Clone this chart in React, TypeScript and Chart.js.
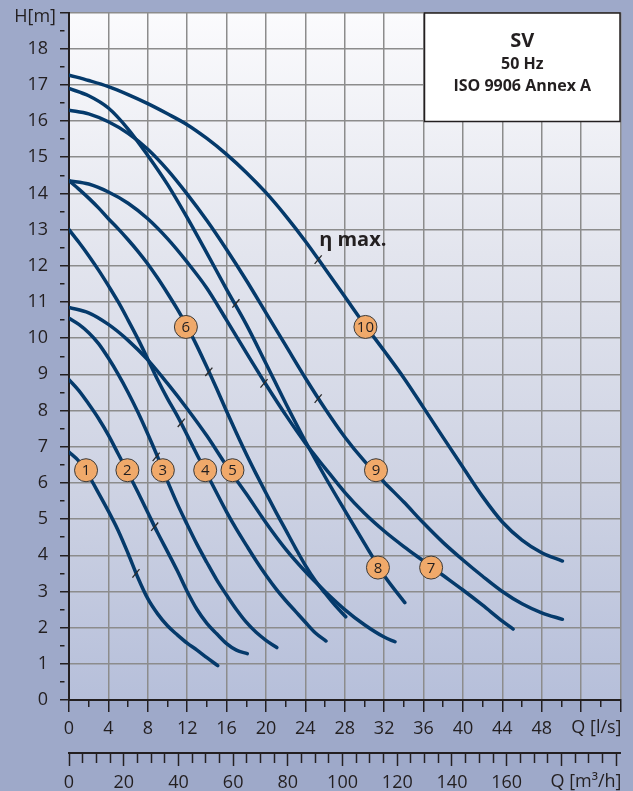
import React, { useEffect, useRef } from 'react';
import { Chart, registerables } from 'chart.js';

Chart.register(...registerables);

const FONT = "'Open Sans', 'Noto Sans', sans-serif";
const INK = '#231f20';
const CURVE = '#053a6b';
const GRID = '#8c8c8c';
const OUTER = '#9ea9c9';
const CLEAR = 'rgba(0,0,0,0)';

// Pump curves: Q [l/s] and H [m]
const q1 = [0, 1, 2, 3, 4, 5, 6, 7, 8, 9, 10, 11, 12, 13, 14, 15.1];
const h1 = [6.85, 6.6, 6.2, 5.72, 5.22, 4.68, 4.05, 3.38, 2.8, 2.38, 2.05, 1.8, 1.57, 1.38, 1.17, 0.95];

const q2 = [0, 1, 2, 3, 4, 5, 6, 7, 8, 9, 10, 11, 12, 13, 14, 15, 16, 17, 18.1];
const h2 = [8.85, 8.55, 8.18, 7.78, 7.32, 6.8, 6.28, 5.74, 5.18, 4.62, 4.1, 3.57, 3.0, 2.5, 2.12, 1.83, 1.56, 1.38, 1.28];

const q3 = [0, 1, 2, 3, 4, 5, 6, 7, 8, 9, 10, 11, 12, 13, 14, 15, 16, 17, 18, 19, 20, 21.1];
const h3 = [10.55, 10.38, 10.15, 9.85, 9.45, 9.0, 8.5, 7.95, 7.35, 6.72, 6.05, 5.42, 4.85, 4.3, 3.8, 3.32, 2.9, 2.5, 2.15, 1.87, 1.65, 1.45];

const q4 = [0, 1, 2, 3, 4, 5, 6, 7, 8, 9, 10, 11, 12, 13, 14, 15, 16, 17, 18, 19, 20, 21, 22, 23, 24, 25, 26.1];
const h4 = [13.0, 12.65, 12.28, 11.88, 11.45, 11.0, 10.5, 9.98, 9.42, 8.85, 8.33, 7.85, 7.32, 6.78, 6.25, 5.72, 5.2, 4.72, 4.28, 3.85, 3.45, 3.08, 2.75, 2.45, 2.15, 1.86, 1.63];

const q5 = [0, 2, 4, 6, 8, 10, 12, 14, 16, 18, 20, 22, 24, 26, 28, 30, 32, 33.1];
const h5 = [10.85, 10.7, 10.38, 9.94, 9.4, 8.75, 8.05, 7.3, 6.47, 5.7, 4.9, 4.17, 3.55, 3.0, 2.5, 2.08, 1.74, 1.61];

const q6 = [0, 1, 2, 3, 4, 5, 6, 7, 8, 9, 10, 11, 12, 13, 14, 15, 16, 17, 18, 19, 20, 21, 22, 23, 24, 25, 26, 27, 28.1];
const h6 = [14.35, 14.12, 13.87, 13.6, 13.3, 13.02, 12.72, 12.4, 12.05, 11.66, 11.24, 10.8, 10.32, 9.78, 9.2, 8.6, 7.98, 7.38, 6.8, 6.25, 5.72, 5.2, 4.7, 4.2, 3.72, 3.3, 2.95, 2.62, 2.3];

const q7 = [0, 2, 4, 6, 8, 10, 12, 14, 16, 18, 20, 22, 24, 26, 28, 30, 32, 34, 36, 38, 40, 42, 44, 45.1];
const h7 = [14.35, 14.26, 14.04, 13.73, 13.3, 12.75, 12.1, 11.38, 10.5, 9.6, 8.72, 7.88, 7.1, 6.41, 5.74, 5.16, 4.67, 4.24, 3.84, 3.44, 3.04, 2.62, 2.18, 1.96];

const q8 = [0, 2, 4, 6, 8, 10, 12, 14, 16, 18, 20, 22, 24, 26, 28, 30, 32, 34.1];
const h8 = [16.9, 16.7, 16.36, 15.78, 15.05, 14.25, 13.33, 12.35, 11.35, 10.38, 9.3, 8.2, 7.15, 6.17, 5.24, 4.33, 3.44, 2.69];

const q9 = [0, 2, 4, 6, 8, 10, 12, 14, 16, 18, 20, 22, 24, 26, 28, 30, 32, 34, 36, 38, 40, 42, 44, 46, 48, 50.1];
const h9 = [16.3, 16.2, 15.98, 15.66, 15.22, 14.65, 13.98, 13.25, 12.45, 11.6, 10.7, 9.8, 8.9, 8.05, 7.27, 6.6, 6.02, 5.47, 4.89, 4.35, 3.87, 3.42, 3.0, 2.66, 2.41, 2.23];

const q10 = [0, 2, 4, 6, 8, 10, 12, 14, 16, 18, 20, 22, 24, 26, 28, 30, 32, 34, 36, 38, 40, 42, 44, 46, 48, 50.1];
const h10 = [17.27, 17.12, 16.95, 16.73, 16.48, 16.2, 15.9, 15.52, 15.08, 14.58, 14.02, 13.38, 12.68, 11.92, 11.15, 10.38, 9.65, 8.9, 8.08, 7.25, 6.43, 5.62, 4.92, 4.42, 4.07, 3.84];

const curveQ = [q1, q2, q3, q4, q5, q6, q7, q8, q9, q10];
const curveH = [h1, h2, h3, h4, h5, h6, h7, h8, h9, h10];

// Curve number badges
const badgeText = ['1', '2', '3', '4', '5', '6', '7', '8', '9', '10'];
const badgeQ = [1.73, 5.93, 9.53, 13.83, 16.6, 11.87, 36.77, 31.37, 31.17, 30.1];
const badgeH = [6.35, 6.35, 6.35, 6.35, 6.35, 10.31, 3.66, 3.66, 6.35, 10.31];

// Best-efficiency marks (η max.)
const effQ = [6.8, 8.7, 8.85, 11.4, 14.2, 19.8, 16.95, 25.3, 25.3];
const effH = [3.5, 4.79, 6.72, 7.66, 9.07, 8.75, 10.96, 8.33, 12.17];

// Axis settings
const qMax = 56;
const hMax = 19;
const m3hPerLs = 3.6;

const decoPlugin = {
  id: 'deco',
  beforeDraw(chart: any) {
    const { ctx, chartArea: a, width, height } = chart;
    ctx.save();
    ctx.fillStyle = OUTER;
    ctx.fillRect(0, 0, width, height);
    const g = ctx.createLinearGradient(0, a.top, 0, a.bottom);
    g.addColorStop(0, '#fbfbfd');
    g.addColorStop(0.35, '#e3e5ee');
    g.addColorStop(0.7, '#cdd2e3');
    g.addColorStop(1, '#b6bfda');
    ctx.fillStyle = g;
    ctx.fillRect(a.left, a.top, a.right - a.left, a.bottom - a.top);
    ctx.restore();
  },
  afterDatasetsDraw(chart: any) {
    const { ctx } = chart;
    const meta = chart.getDatasetMeta(0);
    ctx.save();
    ctx.fillStyle = INK;
    ctx.font = `15px ${FONT}`;
    ctx.textAlign = 'center';
    ctx.textBaseline = 'middle';
    meta.data.forEach((el: any, i: number) => {
      ctx.fillText(badgeText[i], el.x, el.y + 1);
    });
    ctx.restore();
  },
  afterDraw(chart: any) {
    const { ctx, chartArea: a, scales } = chart;
    const xs = scales.x;
    const ys = scales.y;
    ctx.save();
    // info box
    const bl = Math.round(xs.getPixelForValue(36)) + 0.5;
    const bb = Math.round(ys.getPixelForValue(16)) + 0.5;
    const bt = a.top + 0.5;
    const br = a.right - 0.5;
    ctx.fillStyle = '#ffffff';
    ctx.fillRect(bl, bt, br - bl, bb - bt);
    ctx.strokeStyle = INK;
    ctx.lineWidth = 1.5;
    ctx.strokeRect(bl, bt, br - bl, bb - bt);
    const cx = (bl + br) / 2;
    ctx.fillStyle = INK;
    ctx.textAlign = 'center';
    ctx.textBaseline = 'middle';
    ctx.font = `bold 20px ${FONT}`;
    ctx.fillText('SV', cx, 41);
    ctx.font = `bold 16px ${FONT}`;
    ctx.fillText('50 Hz', cx, 64);
    ctx.fillText('ISO 9906 Annex A', cx, 86);

    // eta max
    ctx.textAlign = 'left';
    ctx.font = `bold 20px ${FONT}`;
    ctx.fillText('η max.', xs.getPixelForValue(25.4), ys.getPixelForValue(12.7));

    // axis titles
    ctx.font = `18px ${FONT}`;
    ctx.textAlign = 'right';
    ctx.fillText('H[m]', 56, 17);
    ctx.fillText('Q [l/s]', a.right + 1, 728);
    ctx.fillText('Q [m³/h]', a.right + 1, 782);
    ctx.restore();
  },
};

function noPad(s: any) {
  s.paddingTop = 0;
  s.paddingBottom = 0;
  s.paddingLeft = 0;
  s.paddingRight = 0;
}

export default function App() {
  const ref = useRef<HTMLCanvasElement>(null);

  useEffect(() => {
    const canvas = ref.current;
    if (!canvas) return;
    Chart.defaults.font.family = FONT;

    const datasets: any[] = [];
    datasets.push({
      type: 'scatter',
      data: badgeQ.map((q, i) => ({ x: q, y: badgeH[i] })),
      pointRadius: 11.5,
      pointBackgroundColor: '#f0a96a',
      pointBorderColor: '#3a3a3a',
      pointBorderWidth: 1,
      showLine: false,
      order: 0,
      xAxisID: 'x',
      yAxisID: 'y',
    });
    datasets.push({
      type: 'scatter',
      data: effQ.map((q, i) => ({ x: q, y: effH[i] })),
      pointStyle: 'line',
      pointRadius: 5.5,
      pointRotation: -50,
      pointBorderColor: '#2a2a2a',
      pointBorderWidth: 1.3,
      showLine: false,
      order: 1,
      xAxisID: 'x',
      yAxisID: 'y',
    });
    curveQ.forEach((qs, i) => {
      datasets.push({
        type: 'line',
        data: qs.map((q, j) => ({ x: q, y: curveH[i][j] })),
        borderColor: CURVE,
        borderWidth: 3.5,
        pointRadius: 0,
        cubicInterpolationMode: 'monotone',
        borderCapStyle: 'round',
        borderJoinStyle: 'round',
        fill: false,
        order: 2,
        xAxisID: 'x',
        yAxisID: 'y',
      });
    });

    const tickFont = { family: FONT, size: 18 };

    const chart = new Chart(canvas, {
      type: 'line',
      data: { datasets },
      options: {
        responsive: false,
        animation: false,
        events: [],
        layout: { padding: { top: 12, right: 3, left: 0, bottom: 0 } },
        plugins: {
          legend: { display: false },
          tooltip: { enabled: false },
        },
        scales: {
          x: {
            type: 'linear',
            position: 'bottom',
            min: 0,
            max: qMax,
            weight: 0,
            afterFit: (s: any) => {
              s.height = 53;
              noPad(s);
            },
            border: { display: true, color: INK, width: 2 },
            grid: {
              color: (c: any) => (c.tick && c.tick.value % 4 === 0 ? GRID : CLEAR),
              lineWidth: 1.5,
              tickColor: INK,
              tickWidth: 1.5,
              tickLength: 12,
              tickBorderDash: (c: any) => (c.tick && c.tick.value % 4 !== 0 ? [6, 40] : []),
            },
            ticks: {
              stepSize: 2,
              autoSkip: false,
              maxRotation: 0,
              includeBounds: false,
              padding: 6,
              color: INK,
              font: tickFont,
              callback: (v: any) => (v % 4 === 0 && v <= 48 ? String(v) : ''),
            },
          },
          x2: {
            type: 'linear',
            position: 'bottom',
            min: 0,
            max: qMax * m3hPerLs,
            weight: 1,
            afterFit: (s: any) => {
              s.height = 38;
              noPad(s);
            },
            border: { display: true, color: INK, width: 2 },
            grid: {
              drawOnChartArea: false,
              tickColor: INK,
              tickWidth: 1.5,
              tickLength: 13,
              tickBorderDash: (c: any) => (c.tick && c.tick.value % 20 !== 0 ? [9, 40] : []),
            },
            ticks: {
              stepSize: 5,
              autoSkip: false,
              maxRotation: 0,
              includeBounds: false,
              padding: 6,
              color: INK,
              font: tickFont,
              callback: (v: any) => (v % 20 === 0 && v <= 160 ? String(v) : ''),
            },
          },
          y: {
            type: 'linear',
            position: 'left',
            min: 0,
            max: hMax,
            afterFit: (s: any) => {
              s.width = 69;
              noPad(s);
            },
            border: { display: true, color: INK, width: 2 },
            grid: {
              color: (c: any) => (c.tick && Number.isInteger(c.tick.value) ? GRID : CLEAR),
              lineWidth: 1.5,
              tickColor: INK,
              tickWidth: 1.5,
              tickLength: 9,
              tickBorderDash: (c: any) => (c.tick && !Number.isInteger(c.tick.value) ? [4.5, 40] : []),
            },
            ticks: {
              stepSize: 0.5,
              autoSkip: false,
              includeBounds: false,
              padding: 12,
              color: INK,
              font: tickFont,
              callback: (v: any) => (Number.isInteger(v) && v <= 18 ? String(v) : ''),
            },
          },
        },
      } as any,
      plugins: [decoPlugin],
    });

    return () => {
      chart.destroy();
    };
  }, []);

  return (
    <div style={{ position: 'absolute', left: 0, top: 0, width: 633, height: 791, background: OUTER }}>
      <canvas ref={ref} width={633} height={791} style={{ display: 'block' }} />
    </div>
  );
}
